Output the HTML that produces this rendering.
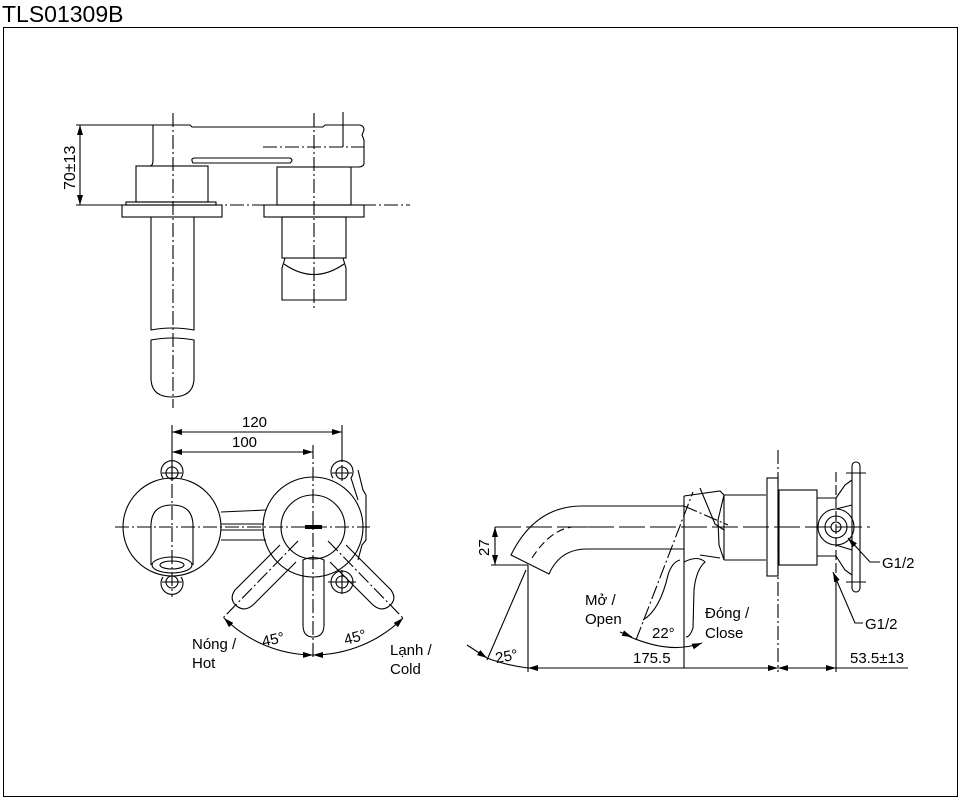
<!DOCTYPE html>
<html><head><meta charset="utf-8"><style>
html,body{margin:0;padding:0;background:#fff;}
svg{display:block;}
text{font-family:"Liberation Sans","Noto Sans CJK SC",sans-serif;fill:#000;}
</style></head><body>
<svg width="962" height="800" viewBox="0 0 962 800" xmlns="http://www.w3.org/2000/svg">
<defs>
<marker id="a" markerWidth="10" markerHeight="6" refX="10" refY="3" orient="auto-start-reverse" markerUnits="userSpaceOnUse"><path d="M0,0 L10,3 L0,6 Z" fill="#000"/></marker>
</defs>
<text x="2" y="22" font-size="23">TLS01309B</text>
<rect x="3.5" y="27.5" width="954" height="769" fill="none" stroke="#000" stroke-width="1"/>
<g fill="none" stroke="#000" stroke-width="1.1">
<!-- TOP VIEW -->
<line x1="80" y1="125" x2="80" y2="205" marker-start="url(#a)" marker-end="url(#a)"/>
<line x1="76" y1="125" x2="153" y2="125"/>
<line x1="76" y1="205" x2="120" y2="205"/>
<line x1="120" y1="205" x2="410" y2="205" stroke-dasharray="14,3,2,3"/>
<line x1="173" y1="113" x2="173" y2="408" stroke-dasharray="14,3,2,3"/>
<line x1="314" y1="113" x2="314" y2="310" stroke-dasharray="14,3,2,3"/>
<line x1="343" y1="112" x2="343" y2="147"/>
<line x1="263" y1="147" x2="364" y2="147" stroke-dasharray="14,3,2,3"/>
<path d="M137,166 L150,166 Q153,166 153,160 L153,125 L190,125 L192,127 L323,127 L325,125 L360,125 Q364,126 364,130 L362,135 L364,140 L364,163 Q364,167 358,167 L351,167"/>
<path d="M193,163 Q190,158 195,158 L290,158 Q294,160 290,163 Z"/>
<rect x="136" y="166" width="72" height="36"/>
<rect x="126" y="202" width="90" height="3"/>
<rect x="122" y="205" width="100" height="12"/>
<path d="M151,217 L151,330 Q172,326 194,330 L194,217"/>
<path d="M151,340 Q172,336 194,340 L194,378 Q194,397 172,397 Q151,397 151,378 Z"/>
<rect x="277" y="167" width="74" height="38"/>
<rect x="264" y="205" width="100" height="12"/>
<rect x="282" y="217" width="64" height="41"/>
<path d="M285,258 Q283,265 282,268 L282,300 L346,300 L346,268 Q345,265 343,258"/>
<path d="M284,264 Q314,285 344,264"/>
<!-- FRONT VIEW -->
<line x1="172" y1="432" x2="342" y2="432" marker-start="url(#a)" marker-end="url(#a)"/>
<line x1="172" y1="452" x2="313" y2="452" marker-start="url(#a)" marker-end="url(#a)"/>
<line x1="172" y1="425" x2="172" y2="462"/>
<line x1="342" y1="425" x2="342" y2="462"/>
<line x1="172" y1="462" x2="172" y2="597" stroke-dasharray="14,3,2,3"/>
<line x1="313" y1="445" x2="313" y2="658" stroke-dasharray="14,3,2,3"/>
<line x1="115" y1="527" x2="370" y2="527" stroke-dasharray="14,3,2,3"/>
<circle cx="172" cy="527" r="49"/>
<path d="M151,565 L151,526 Q151,505 172,505 Q193,505 193,526 L193,565"/>
<ellipse cx="172" cy="565" rx="20" ry="8"/>
<ellipse cx="172" cy="565" rx="12" ry="4"/>
<line x1="221" y1="512" x2="266" y2="510"/>
<line x1="221" y1="540" x2="266" y2="540"/>
<line x1="221" y1="524" x2="264" y2="524"/>
<line x1="221" y1="530" x2="264" y2="530"/>
<circle cx="313" cy="527" r="50"/>
<circle cx="313" cy="527" r="32"/>
<line x1="305" y1="527" x2="322" y2="527" stroke-width="4"/>
<g>
<circle cx="172" cy="473" r="6"/><path d="M163,478 A11,11 0 1 1 181,478"/>
<circle cx="172" cy="582" r="6"/><path d="M163,577 A11,11 0 1 0 181,577"/>
<circle cx="342" cy="473" r="6"/><path d="M333,478 A11,11 0 1 1 351,478 L358,500"/>
<circle cx="342" cy="582" r="6"/><circle cx="342" cy="582" r="11"/>
<path d="M162,473 H182 M172,465 V481 M162,582 H182 M332,473 H352 M342,465 V481 M328,582 H356 M342,570 V594"/>
</g>
<path d="M358,470 L363,490 L366,495 L366,540 L362,545 L358,560"/>
<path d="M303,560 L303,625 Q303,637 313,637 Q324,637 324,625 L324,560 Q313,555 303,560 Z"/>
<path d="M280,545 L235,590 Q228,600 238,607 Q246,612 254,604 L296,562"/>
<path d="M346,545 L391,590 Q398,600 388,607 Q380,612 372,604 L330,562"/>
<line x1="298" y1="541" x2="223" y2="618" stroke-dasharray="14,3,2,3"/>
<line x1="328" y1="541" x2="403" y2="618" stroke-dasharray="14,3,2,3"/>
<path d="M224,618 A128,128 0 0 0 313,655" marker-start="url(#a)" marker-end="url(#a)"/>
<path d="M313,655 A128,128 0 0 0 403,618" marker-start="url(#a)" marker-end="url(#a)"/>
<!-- SIDE VIEW -->
<line x1="495" y1="527" x2="870" y2="527" stroke-dasharray="26,5"/>
<line x1="778" y1="450" x2="778" y2="672" stroke-dasharray="14,3,2,3"/>
<path d="M582,506 L684,506 M587,549 L684,549"/>
<path d="M582,506 Q535,506 511,555 L549,574 Q560,549 587,549"/>
<path d="M532,558 Q550,530 572,527 L590,527" stroke-dasharray="8,4"/>
<line x1="684" y1="496" x2="684" y2="668"/>
<path d="M684,496 L720,491 L724,495 M700,488 L715,524 L724,530"/>
<path d="M684,506 L728,525" stroke-dasharray="14,3,2,3"/>
<path d="M684,562 Q698,555 705,562 Q696,570 694,590 L693,628 Q690,637 686,637"/>
<path d="M724,495 L766,495 M724,560 L766,560 M724,495 L718,520 L719,545 L724,560 M724,495 L724,560"/>
<path d="M700,555 L720,558"/>
<path d="M636,640 L693,492" stroke-dasharray="14,3,2,3"/>
<path d="M643,620 Q660,610 668,575 Q672,562 680,560"/>
<path d="M628,636 Q660,650 684,647 Q694,646 702,643" marker-end="url(#a)"/>
<line x1="620" y1="632" x2="632" y2="637" marker-end="url(#a)"/>
<rect x="767" y="478" width="11" height="98"/>
<rect x="779" y="490" width="38" height="75"/>
<path d="M817,498 L836,498 M817,556 L836,556"/>
<circle cx="836" cy="527" r="18"/>
<circle cx="836" cy="527" r="11"/>
<circle cx="836" cy="527" r="5"/>
<rect x="852" y="462" width="8" height="130" rx="4"/>
<path d="M846,473 H866 M846,582 H866"/>
<path d="M836,498 L845,485 L852,480 M836,556 L845,570 L852,575 M836,509 L852,505 M836,545 L852,550"/>
<line x1="836" y1="472" x2="836" y2="590" stroke-dasharray="10,3"/>
<line x1="836" y1="576" x2="836" y2="672"/>
<path d="M880,562 L870,562 L848,538" marker-end="url(#a)"/>
<path d="M863,623 L855,623 L833,572" marker-end="url(#a)"/>
<line x1="495" y1="527" x2="495" y2="565" marker-start="url(#a)" marker-end="url(#a)"/>
<line x1="491" y1="565" x2="528" y2="565"/>
<line x1="528" y1="565" x2="528" y2="672"/>
<line x1="528" y1="668" x2="778" y2="668" marker-start="url(#a)" marker-end="url(#a)"/>
<line x1="778" y1="668" x2="836" y2="668" marker-start="url(#a)" marker-end="url(#a)"/>
<line x1="836" y1="668" x2="908" y2="668"/>
<line x1="526" y1="570" x2="487" y2="660"/>
<path d="M487,658 Q505,665 528,668" />
<line x1="467" y1="645" x2="487" y2="658" marker-end="url(#a)"/>
</g>
<g font-size="15">
<text x="75" y="190" transform="rotate(-90 75 190)" font-size="16">70±13</text>
<text x="242" y="427">120</text>
<text x="232" y="447">100</text>
<text x="262" y="644" transform="rotate(-12 275 640)">45°</text>
<text x="344" y="642" transform="rotate(-15 356 638)">45°</text>
<text x="192" y="649">Nóng /</text>
<text x="192" y="668">Hot</text>
<text x="390" y="655">Lạnh /</text>
<text x="390" y="674">Cold</text>
<text x="489" y="556" transform="rotate(-90 489 556)">27</text>
<text x="585" y="605">Mở /</text>
<text x="585" y="624">Open</text>
<text x="652" y="638">22°</text>
<text x="705" y="618">Đóng /</text>
<text x="705" y="638">Close</text>
<text x="495" y="661" transform="rotate(-10 508 655)">25°</text>
<text x="633" y="663">175.5</text>
<text x="850" y="663">53.5±13</text>
<text x="882" y="568">G1/2</text>
<text x="865" y="629">G1/2</text>
</g>
</svg>
</body></html>
